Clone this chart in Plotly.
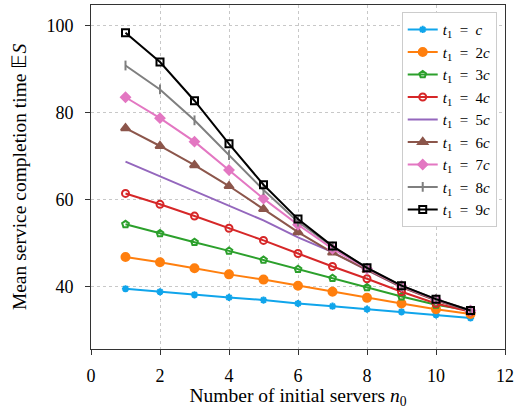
import plotly.graph_objects as go

n0 = [1, 2, 3, 4, 5, 6, 7, 8, 9, 10, 11]

t1_c  = [39.6, 38.9, 38.2, 37.6, 37.0, 36.2, 35.6, 34.9, 34.3, 33.6, 32.9]
t1_2c = [46.9, 45.7, 44.3, 42.9, 41.7, 40.3, 38.9, 37.5, 36.2, 34.9, 33.8]
t1_3c = [54.4, 52.3, 50.3, 48.3, 46.2, 44.1, 42.0, 39.9, 37.8, 35.9, 34.6]
t1_4c = [61.5, 59.0, 56.3, 53.5, 50.7, 47.7, 44.7, 41.9, 38.9, 36.2, 34.3]
t1_5c = [68.8, 65.4, 62.1, 58.7, 55.3, 51.4, 48.0, 43.9, 40.0, 37.0, 34.5]
t1_6c = [76.5, 72.4, 68.0, 63.2, 57.9, 52.6, 47.9, 43.9, 40.0, 36.9, 34.5]
t1_7c = [83.6, 78.8, 73.4, 66.9, 60.3, 54.3, 48.8, 44.2, 40.2, 37.1, 34.6]
t1_8c = [90.9, 85.4, 78.3, 70.3, 62.3, 55.0, 49.3, 44.4, 40.3, 37.2, 34.6]
t1_9c = [98.4, 91.7, 82.8, 72.9, 63.5, 55.6, 49.4, 44.4, 40.3, 37.2, 34.6]

labels = ["c", "2c", "3c", "4c", "5c", "6c", "7c", "8c", "9c"]
series = [t1_c, t1_2c, t1_3c, t1_4c, t1_5c, t1_6c, t1_7c, t1_8c, t1_9c]

colors = ["#10a5eb", "#ff7f0e", "#2ca02c", "#d62728", "#9467bd",
          "#8c564b", "#e377c2", "#7f7f7f", "#000000"]
symbols = ["asterisk-open", "circle", "pentagon-open", "circle-open", None,
           "triangle-up", "diamond", "line-ns-open", "square-open"]
sizes = [6, 8, 7, 7, 0, 8, 7, 7, 7]

fig = go.Figure()
for lab, ys, col, sym, sz in zip(labels, series, colors, symbols, sizes):
    if sym is None:
        mode = "lines"
        marker = dict()
    else:
        mode = "lines+markers"
        marker = dict(symbol=sym, size=sz, color=col,
                      line=dict(color=col, width=2))
    if lab == "c":
        name = "<i>t</i><sub>1</sub>\u2002=\u2002<i>c</i>"
    else:
        name = "<i>t</i><sub>1</sub>\u2002=\u2002" + lab[:-1] + "<i>c</i>"
    fig.add_trace(go.Scatter(
        x=n0, y=ys, mode=mode, name=name,
        line=dict(color=col, width=2),
        marker=marker,
    ))

font_family = "Liberation Serif, serif"

fig.update_layout(
    width=514, height=409,
    margin=dict(l=91, r=9, t=5, b=60),
    paper_bgcolor="white",
    plot_bgcolor="white",
    font=dict(family=font_family, size=17, color="black"),
    showlegend=True,
    legend=dict(
        x=0.98, y=0.979, xanchor="right", yanchor="top",
        bordercolor="#cccccc", borderwidth=1,
        bgcolor="white",
        font=dict(family=font_family, size=15),
        tracegroupgap=0,
        itemwidth=30,
    ),
    xaxis=dict(
        range=[0, 12], tickvals=[0, 2, 4, 6, 8, 10, 12],
        showgrid=True, gridcolor="#c8c8c8", griddash="dot", gridwidth=1,
        showline=True, linecolor="#333333", linewidth=1, mirror=True,
        ticks="outside", ticklen=5, tickcolor="#333333",
        zeroline=False, automargin=False,
        ticklabelstandoff=5,
        title=dict(text="Number of initial servers <i>n</i><sub>0</sub>",
                   standoff=3, font=dict(family=font_family, size=19.5)),
        tickfont=dict(family=font_family, size=18),
    ),
    yaxis=dict(
        range=[25.75, 104.8], tickvals=[40, 60, 80, 100],
        showgrid=True, gridcolor="#c8c8c8", griddash="dot", gridwidth=1,
        showline=True, linecolor="#333333", linewidth=1, mirror=True,
        ticks="outside", ticklen=5, tickcolor="#333333",
        zeroline=False, automargin=False,
        ticklabelstandoff=8,
        title=dict(text="Mean service completion time \U0001D53C<i>S</i>",
                   standoff=14, font=dict(family=font_family, size=19.5)),
        tickfont=dict(family=font_family, size=18),
    ),
)

fig.write_html("out.html",
               config={"displayModeBar": False},
               post_script="document.body.style.margin='0';")
